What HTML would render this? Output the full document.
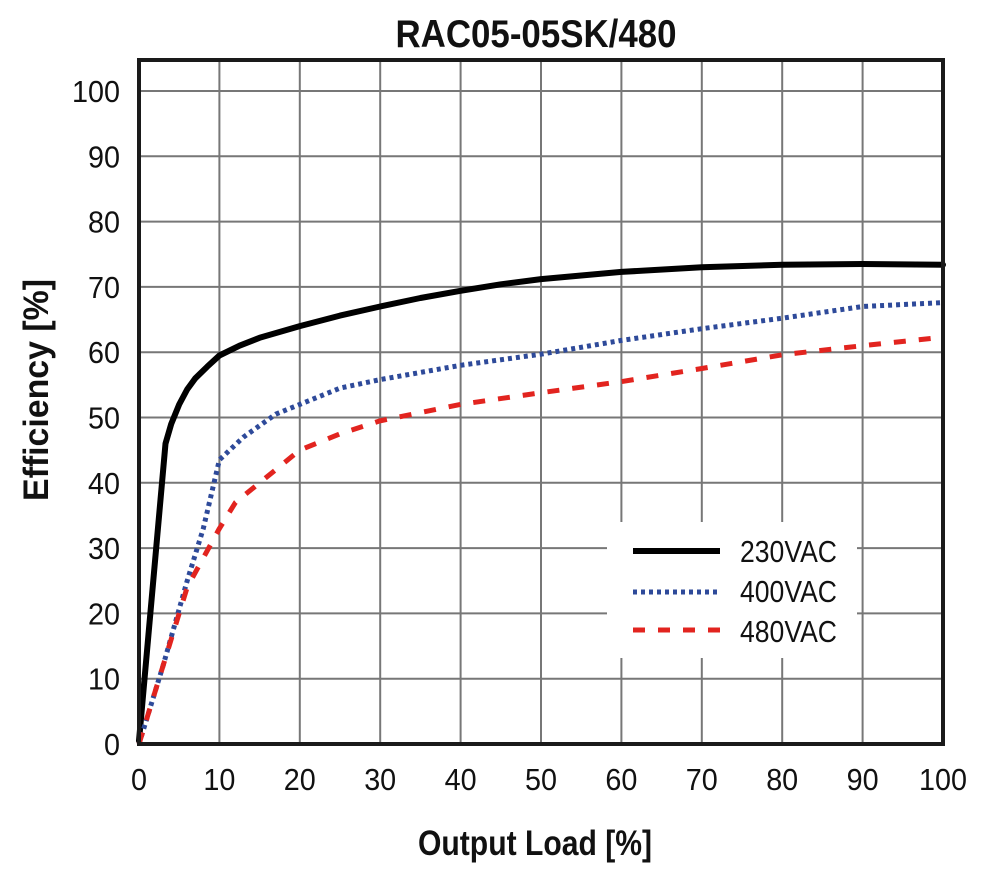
<!DOCTYPE html>
<html><head><meta charset="utf-8"><style>
html,body{margin:0;padding:0;background:#fff;}
svg{display:block;font-family:"Liberation Sans",sans-serif;}
</style></head><body>
<svg id="s" width="989" height="872" viewBox="0 0 989 872" xmlns="http://www.w3.org/2000/svg">
<rect width="989" height="872" fill="#fff"/>
<g id="grid" stroke="#777" stroke-width="2"></g>
<rect x="607" y="522" width="250" height="136" fill="#fff"/>
<g id="curves" fill="none"></g>
<rect x="139" y="60" width="804" height="684" fill="none" stroke="#1a1a1a" stroke-width="4"/>
<g id="labels" font-size="31" fill="#111"></g>
<text x="536" y="47" font-size="39" font-weight="bold" text-anchor="middle" textLength="281" lengthAdjust="spacingAndGlyphs" fill="#111">RAC05-05SK/480</text>
<text x="535" y="855" font-size="35" font-weight="bold" text-anchor="middle" textLength="234" lengthAdjust="spacingAndGlyphs" fill="#111">Output Load [%]</text>
<text transform="translate(48,390) rotate(-90)" font-size="35" font-weight="bold" text-anchor="middle" textLength="222" lengthAdjust="spacingAndGlyphs" fill="#111">Efficiency [%]</text>
<line x1="633" y1="551" x2="720" y2="551" stroke="#000" stroke-width="6"/>
<line x1="633" y1="592" x2="720" y2="592" stroke="#2e4a9a" stroke-width="5" stroke-dasharray="4,4"/>
<line x1="633" y1="630" x2="720" y2="630" stroke="#e2241f" stroke-width="5" stroke-dasharray="12,13"/>
<text x="740" y="562" font-size="31" textLength="97" lengthAdjust="spacingAndGlyphs" fill="#111">230VAC</text>
<text x="740" y="602" font-size="31" textLength="97" lengthAdjust="spacingAndGlyphs" fill="#111">400VAC</text>
<text x="740" y="642" font-size="31" textLength="97" lengthAdjust="spacingAndGlyphs" fill="#111">480VAC</text>
</svg>
<script>
var NS="http://www.w3.org/2000/svg";
function X(p){return 139+p*8.04;}function Y(v){return 744-v*6.53;}
function el(t,a,par){var e=document.createElementNS(NS,t);for(var k in a)e.setAttribute(k,a[k]);document.getElementById(par).appendChild(e);return e;}
for(var i=1;i<10;i++)el("line",{x1:X(i*10),y1:60,x2:X(i*10),y2:744},"grid");
for(var j=1;j<=10;j++)el("line",{x1:139,y1:Y(j*10),x2:943,y2:Y(j*10)},"grid");
function tl(s){return s.length*16;}
for(var i=0;i<=10;i++){var s=""+i*10;var t=el("text",{x:X(i*10),y:790,"text-anchor":"middle",textLength:tl(s),lengthAdjust:"spacingAndGlyphs"},"labels");t.textContent=s;}
for(var j=0;j<=10;j++){var s=""+j*10;var t=el("text",{x:120,y:Y(j*10)+11,"text-anchor":"end",textLength:tl(s),lengthAdjust:"spacingAndGlyphs"},"labels");t.textContent=s;}
function pl(d,st){var s=d.map(function(q){return X(q[0]).toFixed(1)+","+Y(q[1]).toFixed(1)}).join(" ");var a={points:s,"stroke-linejoin":"round"};for(var k in st)a[k]=st[k];el("polyline",a,"curves");}
pl([[0,0.5],[3.3,46],[4,49],[5,52],[6,54.3],[7,56],[8.5,57.8],[10,59.5],[12.5,61],[15,62.2],[20,64],[25,65.6],[30,67],[35,68.3],[40,69.4],[45,70.4],[50,71.2],[60,72.3],[70,73],[80,73.4],[90,73.5],[100,73.4]],{stroke:"#000","stroke-width":6,"stroke-linecap":"round"});
pl([[0,0],[3,12],[6,25],[8,33],[10,43.5],[13,47],[17,50.5],[20,52],[25,54.5],[30,55.8],[40,58],[50,59.7],[60,61.8],[70,63.6],[80,65.2],[90,67],[100,67.6]],{stroke:"#2e4a9a","stroke-width":5,"stroke-dasharray":"4,4","stroke-linecap":"butt"});
pl([[0,0],[3,12],[6,24],[10,33],[12,37],[15,40],[20,45],[25,47.5],[30,49.5],[40,52],[50,53.8],[60,55.5],[70,57.5],[80,59.6],[90,61],[100,62.3]],{stroke:"#e2241f","stroke-width":5,"stroke-dasharray":"12,13","stroke-linecap":"butt"});
</script>
</body></html>
